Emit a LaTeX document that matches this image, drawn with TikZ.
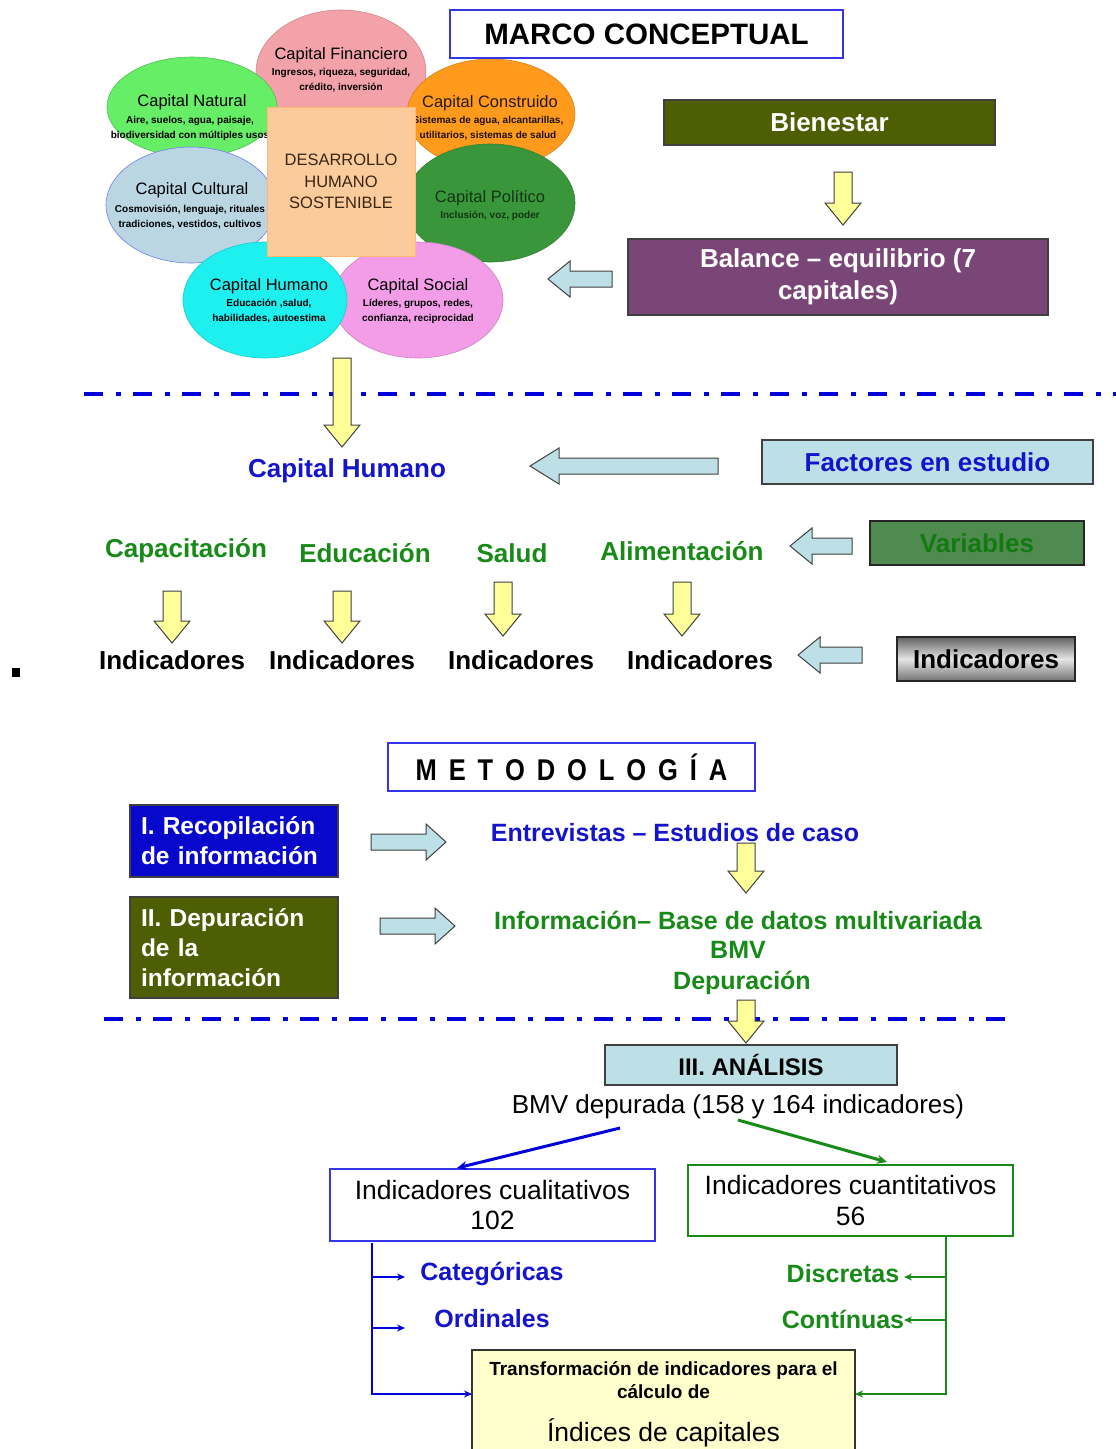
\documentclass[tikz,border=0pt]{standalone}
\usepackage{fontspec}
\setmainfont{Liberation Sans}
\usetikzlibrary{shapes.geometric,arrows.meta}

\definecolor{cFin}{HTML}{F2A2A8}
\definecolor{cNat}{HTML}{66EE66}
\definecolor{cCon}{HTML}{FF9A1C}
\definecolor{cCul}{HTML}{B9D6E2}
\definecolor{cPol}{HTML}{3A963A}
\definecolor{cHum}{HTML}{1EF0F0}
\definecolor{cSoc}{HTML}{F39CE8}
\definecolor{cDHS}{HTML}{FCCB9C}
\definecolor{cOlive}{HTML}{4E5E02}
\definecolor{cPurple}{HTML}{7A4678}
\definecolor{cLB}{HTML}{BDE0E6}
\definecolor{cVarBg}{HTML}{4F8A4F}
\definecolor{cVarTx}{HTML}{137A13}
\definecolor{cBlueT}{HTML}{1414CC}
\definecolor{cGreenT}{HTML}{178A17}
\definecolor{cYel}{HTML}{FFFF99}
\definecolor{cDash}{HTML}{0000DD}
\definecolor{cRecop}{HTML}{0808CC}
\definecolor{cTrans}{HTML}{FFFFCC}
\definecolor{cFrame}{HTML}{3535EE}

\newcommand{\fsz}[2]{\fontsize{#1}{#2}\selectfont}
\newcommand{\mgap}{\hspace{14pt}}

% yellow block arrow pointing down: x, y of tail, y of tip
\newcommand{\YArrow}[3]{%
  \draw[yarrow] ({#1-9},#2) -- ({#1+9},#2) -- ({#1+9},{#3-22}) -- ({#1+18},{#3-22})
    -- (#1,#3) -- ({#1-18},{#3-22}) -- ({#1-9},{#3-22}) -- cycle;}
% light blue block arrow pointing left: y, x of tail, x of tip, head length
\newcommand{\LArrow}[4]{%
  \draw[barrow] (#2,{#1-8}) -- ({#3+#4},{#1-8}) -- ({#3+#4},{#1-18}) -- (#3,#1)
    -- ({#3+#4},{#1+18}) -- ({#3+#4},{#1+8}) -- (#2,{#1+8}) -- cycle;}
% light blue block arrow pointing right: y, x of tail, x of tip, head length
\newcommand{\RArrow}[4]{%
  \draw[barrow] (#2,{#1-8}) -- ({#3-#4},{#1-8}) -- ({#3-#4},{#1-18}) -- (#3,#1)
    -- ({#3-#4},{#1+18}) -- ({#3-#4},{#1+8}) -- (#2,{#1+8}) -- cycle;}

\tikzset{
  ell/.style={ellipse, inner sep=0pt, line width=0.6pt},
  etitle/.style={font=\fsz{16.5}{19}, inner sep=0pt},
  esub/.style={font=\fsz{10}{15}\bfseries, align=center, inner sep=0pt},
  yarrow/.style={fill=cYel, draw=black!75, line width=1pt, line join=miter},
  barrow/.style={fill=cLB, draw=black!75, line width=1pt, line join=miter},
  dashdot/.style={draw=cDash, line width=4pt, dash pattern=on 19pt off 13pt on 5pt off 12pt},
  framebox/.style={draw=cFrame, line width=1.5pt, fill=white, inner sep=0pt},
  solidbox/.style={draw=black!75, line width=1.2pt, inner sep=0pt},
  big/.style={font=\fsz{26}{32}\bfseries, inner sep=0pt},
  mid/.style={font=\fsz{25}{30}\bfseries, inner sep=0pt},
  bline/.style={draw=cDash, line width=2pt},
  gline/.style={draw=cGreenT, line width=2pt},
  tip/.style={-{Stealth[length=8pt,width=7pt]}},
}

\begin{document}
\begin{tikzpicture}[x=1pt,y=-1pt]
\useasboundingbox (0,0) rectangle (1116,1449);
\fill[white] (0,0) rectangle (1116,1449);

% ---------- the seven capitals ----------
\node[ell, fill=cFin, draw=cFin!85!black, minimum width=170pt, minimum height=124pt] (efin) at (341,72) {};
\node[ell, fill=cNat, draw=cNat!80!black, minimum width=170pt, minimum height=100pt] (enat) at (192,107) {};
\node[ell, fill=cCon, draw=cCon!85!black, minimum width=168pt, minimum height=110pt] (econ) at (491,114) {};
\node[ell, fill=cCul, draw=cCul!60!blue, minimum width=170pt, minimum height=116pt] (ecul) at (191,205) {};
\node[ell, fill=cPol, draw=cPol!85!black, minimum width=170pt, minimum height=118pt] (epol) at (490,203) {};
\node[ell, fill=cSoc, draw=cSoc!85!black, minimum width=170pt, minimum height=116pt] (esoc) at (418,300) {};
\node[ell, fill=cHum, draw=cHum!85!black, minimum width=164pt, minimum height=116pt] (ehum) at (265,300) {};

\node[etitle] (tfin) at (341,55) {Capital Financiero};
\node[esub] (sfin) at (341,80) {Ingresos, riqueza, seguridad,\\crédito, inversión};
\node[etitle] (tnat) at (192,102) {Capital Natural};
\node[esub] (snat) at (190,128) {Aire, suelos, agua, paisaje,\\biodiversidad con múltiples usos};
\node[etitle, text=black!80!brown] (tcon) at (490,103) {Capital Construido};
\node[esub, text=black!85!brown] (scon) at (488,128) {Sistemas de agua, alcantarillas,\\utilitarios, sistemas de salud};
\node[etitle] (tcul) at (192,190) {Capital Cultural};
\node[esub] (scul) at (190,217) {Cosmovisión, lenguaje, rituales\\tradiciones, vestidos, cultivos};
\node[etitle, text=black!65!cPol] (tpol) at (490,198) {Capital Político};
\node[esub, text=black!65!cPol] (spol) at (490,216) {Inclusión, voz, poder};
\node[etitle] (thum) at (269,286) {Capital Humano};
\node[esub] (shum) at (269,311) {Educación ,salud,\\habilidades, autoestima};
\node[etitle] (tsoc) at (418,286) {Capital Social};
\node[esub] (ssoc) at (418,311) {Líderes, grupos, redes,\\confianza, reciprocidad};

\node[fill=cDHS, draw=cDHS!75!orange, line width=0.8pt, minimum width=148pt, minimum height=149pt,
      align=center, font=\fsz{16.5}{21.5}, text=black!70!brown] (dhs) at (341,181.5)
      {DESARROLLO\\HUMANO\\SOSTENIBLE};

% ---------- marco conceptual ----------
\node[framebox, minimum width=393pt, minimum height=48pt, font=\fsz{29.5}{32}\bfseries] (marco) at (646.5,34) {MARCO CONCEPTUAL};
\node[solidbox, fill=cOlive, minimum width=331pt, minimum height=45pt, text=white, font=\fsz{26}{32}\bfseries] (bien) at (829.5,122.5) {Bienestar};
\YArrow{843}{172}{225}
\node[solidbox, fill=cPurple, minimum width=420pt, minimum height=76pt, text=white, align=center, font=\fsz{26}{32}\bfseries] (bal) at (838,277) {Balance – equilibrio (7\\capitales)};
\LArrow{279}{612}{548}{22}

% ---------- factors, variables, indicators ----------
\draw[dashdot] (84,394) -- (1116,394);
\YArrow{342}{358}{447}

\node[big, text=cBlueT] (chum) at (347,471) {Capital Humano};
\LArrow{466}{718}{530}{29}
\node[solidbox, fill=cLB, minimum width=331pt, minimum height=44pt, text=cBlueT, font=\fsz{26}{32}\bfseries] (fact) at (927.5,462) {Factores en estudio};

\node[big, text=cGreenT] (vcap) at (186,551) {Capacitación};
\node[big, text=cGreenT] (vedu) at (365,553) {Educación};
\node[big, text=cGreenT] (vsal) at (512,553) {Salud};
\node[big, text=cGreenT] (vali) at (682,551) {Alimentación};
\LArrow{546}{852}{790}{22}
\node[solidbox, draw=black!85, fill=cVarBg, minimum width=214pt, minimum height=44pt, text=cVarTx, font=\fsz{26}{32}\bfseries] (var) at (977,543) {Variables};

\YArrow{172}{591}{643}
\YArrow{342}{591}{643}
\YArrow{503}{582}{636}
\YArrow{682}{582}{636}

\node[big] (ind1) at (172,660) {Indicadores};
\node[big] (ind2) at (342,660) {Indicadores};
\node[big] (ind3) at (521,660) {Indicadores};
\node[big] (ind4) at (700,660) {Indicadores};
\LArrow{655}{862}{798}{22}
\node[solidbox, draw=black!85, top color=black!62, bottom color=black!55, middle color=black!10,
      minimum width=178pt, minimum height=44pt, font=\fsz{26}{32}\bfseries] (indb) at (986,659) {Indicadores};

\fill[black] (12,668) rectangle (20,677);

% ---------- methodology ----------
\node[framebox, minimum width=367pt, minimum height=48pt, font=\fsz{30}{32}\bfseries] (meto) at (571.5,767)
  {\scalebox{0.85}[1]{M\mgap E\mgap T\mgap O\mgap D\mgap O\mgap L\mgap O\mgap G\mgap Í\mgap A}};

\node[solidbox, fill=cRecop, minimum height=72pt, text width=186pt, inner xsep=11pt, align=left,
      text=white, font=\fsz{24.5}{30}\bfseries] (rec) at (234,841) {I. Recopilación\\de información};
\RArrow{842}{371}{446}{20}
\node[mid, text=cBlueT] (entr) at (675,833) {Entrevistas – Estudios de caso};
\YArrow{746}{843}{893}

\node[solidbox, fill=cOlive, minimum height=101pt, text width=186pt, inner xsep=11pt, align=left,
      text=white, font=\fsz{24.5}{30}\bfseries] (dep) at (234,947.5) {II. Depuración\\de la\\información};
\RArrow{926}{380}{455}{20}
\node[mid, text=cGreenT] (info) at (738,920) {Información– Base de datos multivariada};
\node[mid, text=cGreenT] (bmvg) at (738,950) {BMV};
\node[mid, text=cGreenT] (depg) at (742,983) {Depuración};

\draw[dashdot] (104,1019) -- (1005,1019);
\YArrow{746}{1000}{1043}

% ---------- analysis ----------
\node[solidbox, fill=cLB, minimum width=292pt, minimum height=40pt, font=\fsz{24}{28}\bfseries] (anal) at (751,1065) {III. ANÁLISIS};
\node[font=\fsz{26}{30}, inner sep=0pt] (bmvd) at (738,1107) {BMV depurada (158 y 164 indicadores)};

\node[draw=cFrame, line width=1.5pt, fill=white, minimum width=325pt, minimum height=72pt, align=center,
      font=\fsz{26.5}{30}] (qual) at (492.5,1205) {Indicadores cualitativos\\102};
\node[draw=cGreenT, line width=1.5pt, fill=white, minimum width=325pt, minimum height=71pt, align=center,
      font=\fsz{26.5}{31}] (quant) at (850.5,1200.5) {Indicadores cuantitativos\\56};

\coordinate (bmvA) at (620,1128);
\coordinate (bmvB) at (738,1120);
\coordinate (qualIn) at (457,1168);
\coordinate (quantIn) at (887,1162);
\draw[draw=cDash, line width=3pt, -{Stealth[length=10pt,width=9pt]}] (bmvA) -- (qualIn);
\draw[draw=cGreenT, line width=3pt, -{Stealth[length=10pt,width=9pt]}] (bmvB) -- (quantIn);

\node[mid, text=cBlueT] (cat) at (492,1274) {Categóricas};
\node[mid, text=cBlueT] (ord) at (492,1319) {Ordinales};
\node[mid, text=cGreenT] (dis) at (843,1274) {Discretas};
\node[mid, text=cGreenT] (con) at (843,1319) {Contínuas};

\node[draw=black!80, line width=1.2pt, fill=cTrans, minimum width=383pt, minimum height=110pt] (trans) at (663.5,1405) {};
\node[font=\fsz{19}{23}\bfseries, align=center, inner sep=0pt] (transA) at (663.5,1380) {Transformación de indicadores para el\\cálculo de};
\node[font=\fsz{26.5}{30}, inner sep=0pt] (transB) at (663.5,1433) {Índices de capitales};

% qualitative branch
\coordinate (qTop) at (372,1243);
\coordinate (qCorner) at (372,1394);
\coordinate (tInL) at (472,1394);
\coordinate (qc0) at (372,1277);
\coordinate (qc1) at (405,1277);
\coordinate (qo0) at (372,1328);
\coordinate (qo1) at (405,1328);
\draw[bline, tip] (qTop) -- (qCorner) -- (tInL);
\draw[bline, tip] (qc0) -- (qc1);
\draw[bline, tip] (qo0) -- (qo1);

% quantitative branch
\coordinate (gTop) at (946,1237);
\coordinate (gCorner) at (946,1394);
\coordinate (tInR) at (855,1394);
\coordinate (gd0) at (946,1277);
\coordinate (gd1) at (904,1277);
\coordinate (gc0) at (946,1320);
\coordinate (gc1) at (904,1320);
\draw[gline, tip] (gTop) -- (gCorner) -- (tInR);
\draw[gline, tip] (gd0) -- (gd1);
\draw[gline, tip] (gc0) -- (gc1);
\end{tikzpicture}
\end{document}
